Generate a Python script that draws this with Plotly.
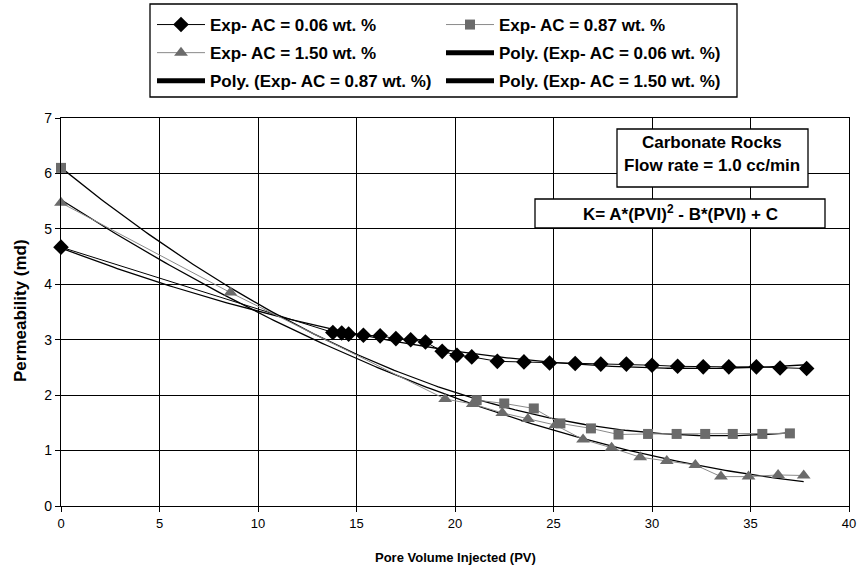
import numpy as np
import plotly.graph_objects as go

# Pore volume injected (PV) and permeability (md) for each acid concentration
pvi_006 = [0, 13.8, 14.25, 14.6, 15.35, 16.2, 17.0, 17.75, 18.5, 19.35, 20.1, 20.85,
           22.15, 23.5, 24.8, 26.1, 27.4, 28.7, 30.0, 31.3, 32.6, 33.9, 35.3, 36.5, 37.85]
k_006 = [4.67, 3.13, 3.12, 3.10, 3.08, 3.07, 3.02, 3.00, 2.96, 2.79, 2.72, 2.69,
         2.61, 2.60, 2.58, 2.57, 2.56, 2.56, 2.54, 2.52, 2.51, 2.51, 2.51, 2.49, 2.48]

pvi_087 = [0, 21.1, 22.5, 24.0, 25.35, 26.9, 28.3, 29.8, 31.25, 32.7, 34.1, 35.6, 37.0]
k_087 = [6.10, 1.91, 1.85, 1.76, 1.49, 1.40, 1.29, 1.30, 1.30, 1.30, 1.30, 1.30, 1.31]

pvi_150 = [0, 8.6, 19.5, 20.9, 22.4, 23.7, 25.1, 26.5, 27.95, 29.4, 30.75, 32.2,
           33.5, 34.9, 36.4, 37.7]
k_150 = [5.47, 3.85, 1.93, 1.84, 1.68, 1.57, 1.46, 1.20, 1.05, 0.88, 0.81, 0.74,
         0.53, 0.53, 0.56, 0.55]

x_ticks = [0, 5, 10, 15, 20, 25, 30, 35, 40]
y_ticks = [0, 1, 2, 3, 4, 5, 6, 7]

name_006 = "Exp- AC = 0.06 wt. %"
name_087 = "Exp- AC = 0.87 wt. %"
name_150 = "Exp- AC = 1.50 wt. %"

FONT = "Arial, Liberation Sans, Helvetica, sans-serif"
GREY_MK = "#6b6b6b"
GREY_LN = "#8a8a8a"


def quad_fit(x, y):
    """Second-order polynomial trend line over the measured range."""
    c = np.polyfit(x, y, 2)
    xs = np.linspace(min(x), max(x), 200)
    return xs, np.polyval(c, xs)


def bold(s):
    return f"<b>{s}</b>"


fig = go.Figure()

# polynomial trend lines (drawn first, beneath the markers)
for xv, yv in ((pvi_006, k_006), (pvi_087, k_087), (pvi_150, k_150)):
    xs, ys = quad_fit(xv, yv)
    fig.add_trace(go.Scatter(x=xs, y=ys, mode="lines", showlegend=False,
                             line=dict(color="black", width=1.3), hoverinfo="skip"))

# measured data
fig.add_trace(go.Scatter(
    x=pvi_006, y=k_006, mode="lines+markers", name=bold(name_006),
    legend="legend", legendgroup="a1", cliponaxis=False,
    line=dict(color="black", width=1),
    marker=dict(symbol="diamond", size=12, color="black")))

fig.add_trace(go.Scatter(
    x=pvi_087[:1], y=k_087[:1], mode="markers", showlegend=False, cliponaxis=False,
    marker=dict(symbol="square", size=10, color=GREY_MK)))
fig.add_trace(go.Scatter(
    x=pvi_087[1:], y=k_087[1:], mode="lines+markers", name=bold(name_087),
    legend="legend2", legendgroup="b1", cliponaxis=False,
    line=dict(color=GREY_LN, width=1),
    marker=dict(symbol="square", size=10, color=GREY_MK)))

fig.add_trace(go.Scatter(
    x=pvi_150, y=k_150, mode="lines+markers", name=bold(name_150),
    legend="legend", legendgroup="a2", cliponaxis=False,
    line=dict(color=GREY_LN, width=1),
    marker=dict(symbol="triangle-up", size=12, color=GREY_MK)))

# legend keys for the trend lines
for nm, lg, grp in ((f"Poly. ({name_006})", "legend2", "b2"),
                    (f"Poly. ({name_087})", "legend", "a3"),
                    (f"Poly. ({name_150})", "legend2", "b3")):
    fig.add_trace(go.Scatter(x=[None], y=[None], mode="lines", name=bold(nm),
                             legend=lg, legendgroup=grp,
                             line=dict(color="black", width=5)))

legend_common = dict(
    xref="container", yref="container", xanchor="left", yanchor="top",
    bgcolor="rgba(0,0,0,0)", borderwidth=0, itemwidth=48, tracegroupgap=3,
    traceorder="grouped",
    font=dict(family=FONT, size=17, color="black"),
)

axis_common = dict(
    showgrid=True, gridcolor="black", gridwidth=1.3,
    showline=True, linecolor="black", linewidth=1.3, mirror=True,
    ticks="outside", ticklen=5, tickcolor="black", tickwidth=1.3,
    zeroline=False,
)

fig.update_layout(
    width=864, height=576,
    paper_bgcolor="white", plot_bgcolor="white",
    margin=dict(l=61, r=15, t=118, b=70, autoexpand=False),
    font=dict(family=FONT, color="black"),
    xaxis=dict(range=[0, 40], tickvals=x_ticks, tickangle=0,
               tickfont=dict(family=FONT, size=13, color="black"),
               **axis_common),
    yaxis=dict(range=[0, 7], tickvals=y_ticks,
               tickfont=dict(family=FONT, size=14, color="black"),
               **axis_common),
    legend=dict(x=152 / 864, y=1 - 7 / 576, **legend_common),
    legend2=dict(x=441 / 864, y=1 - 7 / 576, **legend_common),
    showlegend=True,
)


def px_x(p):
    return (p - 61) / 788


def px_y(p):
    return (506 - p) / 388


# legend frame and text boxes
boxes = [(150, 4, 737, 97), (617, 129, 808, 187), (535, 199, 825, 228)]
for x0, y0, x1, y1 in boxes:
    fig.add_shape(type="rect", xref="paper", yref="paper",
                  x0=px_x(x0), x1=px_x(x1), y0=px_y(y1), y1=px_y(y0),
                  line=dict(color="black", width=1.3),
                  fillcolor="rgba(0,0,0,0)" if y0 < 10 else "white",
                  layer="above" if y0 > 10 else "below")

notes = [("Carbonate Rocks", 712, 142, 0, 17),
         ("Flow rate = 1.0 cc/min", 712, 165, 0, 17),
         ("K= A*(PVI)<sup>2</sup> - B*(PVI) + C", 680, 213, 0, 17),
         ("Pore Volume Injected (PV)", 455, 557, 0, 13),
         ("Permeability (md)", 20, 311, -90, 17)]
for txt, cx, cy, ang, sz in notes:
    fig.add_annotation(text=bold(txt), xref="paper", yref="paper",
                       x=px_x(cx), y=px_y(cy), showarrow=False, textangle=ang,
                       xanchor="center", yanchor="middle",
                       font=dict(family=FONT, size=sz, color="black"))

fig.write_html("out.html")
